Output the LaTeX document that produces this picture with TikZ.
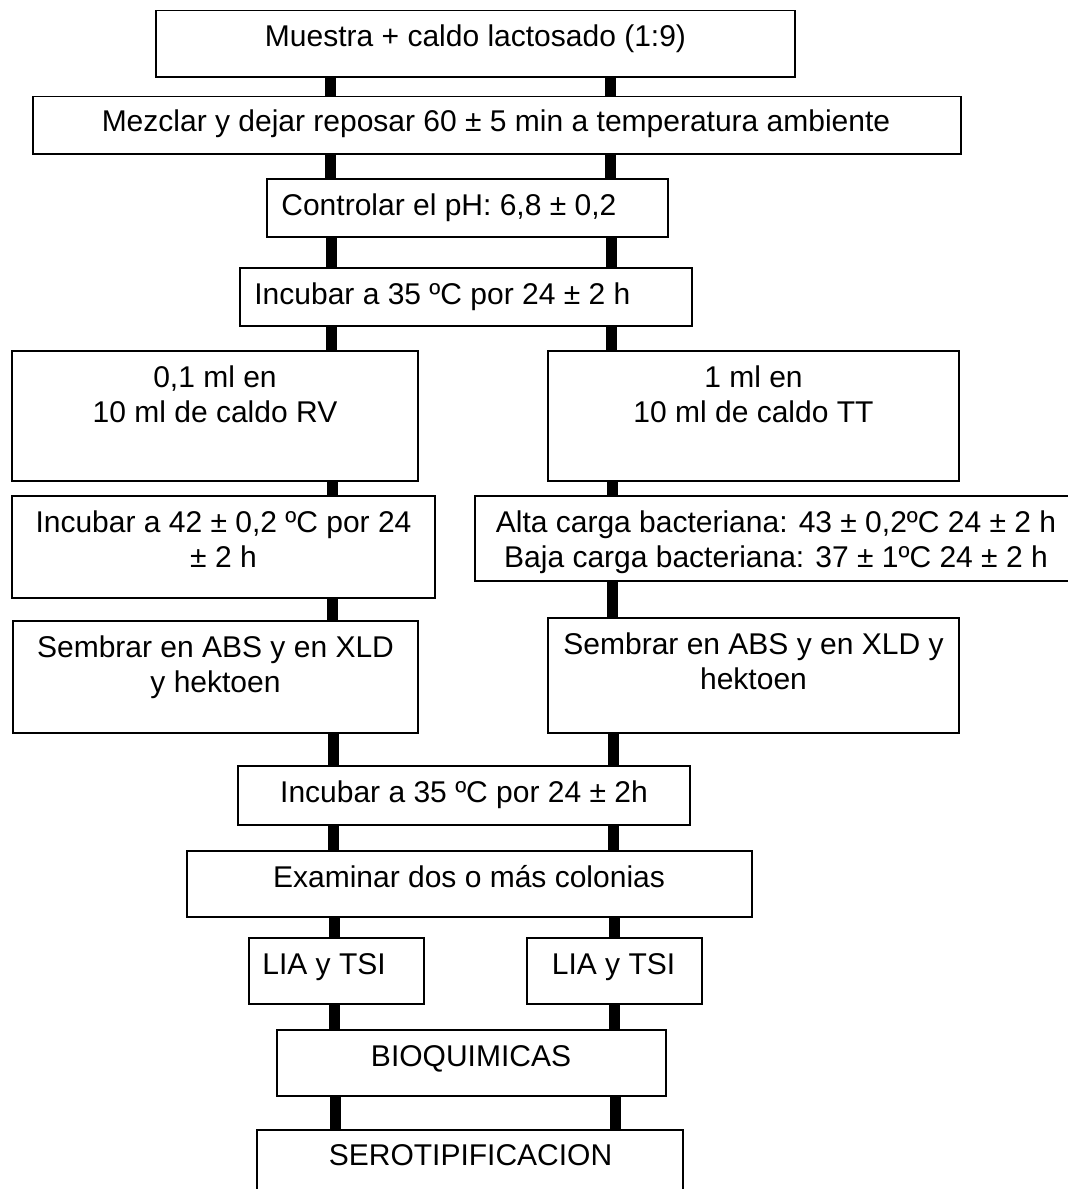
\documentclass[tikz,border=0pt]{standalone}
\usepackage{fontspec}
\setmainfont{Liberation Sans}
\usetikzlibrary{fit}
\tikzset{
  box/.style={draw, line width=0.8pt, inner sep=0pt},
  txt/.style={anchor=base, inner sep=0pt, align=center, font=\fontsize{15}{17.5}\selectfont},
  bar/.style={line width=5.5pt}
}
\begin{document}
\begin{tikzpicture}[x=0.5pt, y=-0.5pt]
        \useasboundingbox (0,0) rectangle (1068,1189);
        \node[box, fit={(156,10.5) (795,77)}] (muestra) {};
        \node[box, fit={(33,96.5) (961,154)}] (mezclar) {};
        \node[box, fit={(267,179) (668,237)}] (ph) {};
        \node[box, fit={(240,268) (692,326)}] (inc) {};
        \node[box, fit={(12,351) (418,481)}] (rv) {};
        \node[box, fit={(548,351) (959,481)}] (tt) {};
        \node[box, fit={(12,496) (435,598)}] (incrv) {};
        \node[box, fit={(475,496) (1077,581)}] (inctt) {};
        \node[box, fit={(13,621) (418,733)}] (sembrv) {};
        \node[box, fit={(548,618) (959,733)}] (sembtt) {};
        \node[box, fit={(238,766) (690,825)}] (incb) {};
        \node[box, fit={(187,851) (752,917)}] (exam) {};
        \node[box, fit={(249,938) (424,1004)}] (lial) {};
        \node[box, fit={(527,938) (702,1004)}] (liar) {};
        \node[box, fit={(277,1030) (666,1096)}] (bioq) {};
        \node[box, fit={(257,1130) (683,1210)}] (sero) {};
        % texts; a two-line text sits on the baseline of its last line
        \node[txt] (tmuestra) at (475.5,46) {Muestra + caldo lactosado (1:9)};
        \node[txt] (tmezclar) at (496,131) {Mezclar y dejar reposar 60 ± 5 min a temperatura ambiente};
        \node[txt, anchor=base west] (tph) at (281,215) {Controlar el pH: 6,8 ± 0,2};
        \node[txt, anchor=base west] (tinc) at (254,304) {Incubar a 35 ºC por 24 ± 2 h};
        \node[txt] (trv) at (215,422) {0,1 ml en\\10 ml de caldo RV};
        \node[txt] (ttt) at (753.5,422) {1 ml en\\10 ml de caldo TT};
        \node[txt] (tincrv) at (223.5,567) {Incubar a 42 ± 0,2 ºC por 24\\± 2 h};
        \node[txt] (tinctt) at (776,567) {Alta carga bacteriana: 43 ± 0,2ºC 24 ± 2 h\\Baja carga bacteriana: 37 ± 1ºC 24 ± 2 h};
        \node[txt] (tsembrv) at (215.5,692) {Sembrar en ABS y en XLD\\y hektoen};
        \node[txt] (tsembtt) at (753.5,689) {Sembrar en ABS y en XLD y\\hektoen};
        \node[txt] (tincb) at (464,802) {Incubar a 35 ºC por 24 ± 2h};
        \node[txt] (texam) at (469,887) {Examinar dos o más colonias};
        \node[txt, anchor=base west] (tlial) at (262,974) {LIA y TSI};
        \node[txt] (tliar) at (613.5,974) {LIA y TSI};
        \node[txt] (tbioq) at (471,1066) {BIOQUIMICAS};
        \node[txt] (tsero) at (470.5,1165) {SEROTIPIFICACION};
        % the two thick bars between the steps
        \foreach \i/\a/\b/\c/\d in {1/muestra/mezclar/muestra/mezclar, 2/mezclar/ph/mezclar/ph,
            3/ph/inc/ph/inc, 4/inc/rv/inc/tt, 5/rv/incrv/tt/inctt, 6/incrv/sembrv/inctt/sembtt,
            7/sembrv/incb/sembtt/incb, 8/incb/exam/incb/exam, 9/exam/lial/exam/liar,
            10/lial/bioq/liar/bioq, 11/bioq/sero/bioq/sero} {
            \coordinate (l) at ({329.5+0.5*\i},0);
            \coordinate (r) at ({609.5+0.5*\i},0);
            \draw[bar] (\a.south -| l) -- (\b.north -| l);
            \draw[bar] (\c.south -| r) -- (\d.north -| r);
        }
    \end{tikzpicture}
\end{document}
